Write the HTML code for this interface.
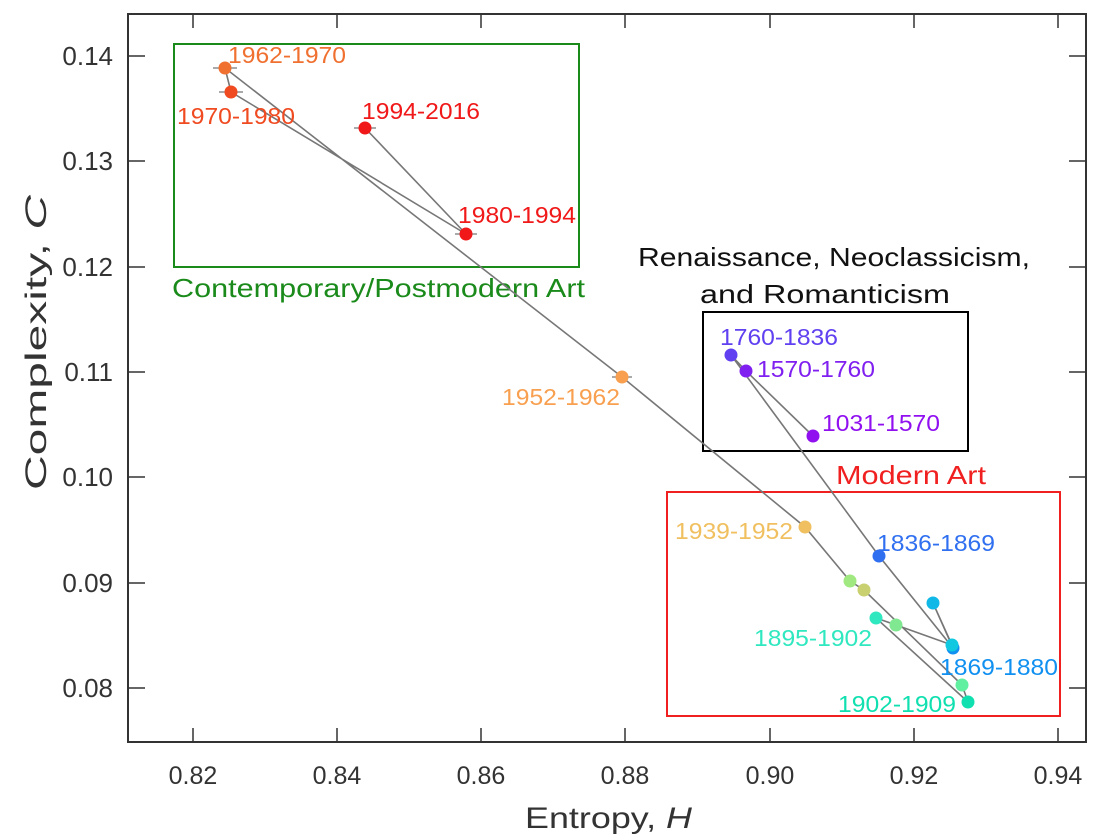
<!DOCTYPE html><html><head><style>body{margin:0;background:#fff}svg{display:block}text{font-family:"Liberation Sans",sans-serif}</style></head><body>
<svg width="1114" height="838" viewBox="0 0 1114 838">
<rect x="128" y="14" width="958" height="728" fill="none" stroke="#333" stroke-width="2"/>
<g stroke="#333" stroke-width="1.5">
<line x1="193" y1="742" x2="193" y2="728"/><line x1="337" y1="742" x2="337" y2="728"/><line x1="481" y1="742" x2="481" y2="728"/><line x1="625" y1="742" x2="625" y2="728"/><line x1="770" y1="742" x2="770" y2="728"/><line x1="914" y1="742" x2="914" y2="728"/><line x1="1058" y1="742" x2="1058" y2="728"/>
<line x1="193" y1="14" x2="193" y2="28"/><line x1="337" y1="14" x2="337" y2="28"/><line x1="481" y1="14" x2="481" y2="28"/><line x1="625" y1="14" x2="625" y2="28"/><line x1="770" y1="14" x2="770" y2="28"/><line x1="914" y1="14" x2="914" y2="28"/><line x1="1058" y1="14" x2="1058" y2="28"/>
<line x1="128" y1="56" x2="145" y2="56"/><line x1="128" y1="161" x2="145" y2="161"/><line x1="128" y1="267" x2="145" y2="267"/><line x1="128" y1="372" x2="145" y2="372"/><line x1="128" y1="477" x2="145" y2="477"/><line x1="128" y1="583" x2="145" y2="583"/><line x1="128" y1="688" x2="145" y2="688"/>
<line x1="1086" y1="56" x2="1069" y2="56"/><line x1="1086" y1="161" x2="1069" y2="161"/><line x1="1086" y1="267" x2="1069" y2="267"/><line x1="1086" y1="372" x2="1069" y2="372"/><line x1="1086" y1="477" x2="1069" y2="477"/><line x1="1086" y1="583" x2="1069" y2="583"/><line x1="1086" y1="688" x2="1069" y2="688"/>
</g>
<g font-size="25" fill="#333" text-anchor="middle">
<text x="193" y="784">0.82</text><text x="337" y="784">0.84</text><text x="481" y="784">0.86</text><text x="625" y="784">0.88</text><text x="770" y="784">0.90</text><text x="914" y="784">0.92</text><text x="1058" y="784">0.94</text>
</g>
<g font-size="26" fill="#333" text-anchor="end">
<text x="113" y="65">0.14</text><text x="113" y="170">0.13</text><text x="113" y="276">0.12</text><text x="113" y="381">0.11</text><text x="113" y="486">0.10</text><text x="113" y="592">0.09</text><text x="113" y="697">0.08</text>
</g>
<text x="525" y="828" font-size="30" fill="#333" textLength="167" lengthAdjust="spacingAndGlyphs">Entropy, <tspan font-style="italic">H</tspan></text>
<text transform="translate(46,490) rotate(-90)" font-size="30" fill="#333" textLength="295" lengthAdjust="spacingAndGlyphs">Complexity, <tspan font-style="italic">C</tspan></text>
<rect x="174" y="44" width="405" height="223" fill="none" stroke="#1a8a1a" stroke-width="2"/>
<text x="172" y="297" font-size="26" fill="#1a8a1a" textLength="413" lengthAdjust="spacingAndGlyphs">Contemporary/Postmodern Art</text>
<rect x="703" y="312" width="265" height="139" fill="none" stroke="#000" stroke-width="2"/>
<text x="638" y="266" font-size="26" fill="#111" textLength="392" lengthAdjust="spacingAndGlyphs">Renaissance, Neoclassicism,</text>
<text x="700" y="303" font-size="26" fill="#111" textLength="250" lengthAdjust="spacingAndGlyphs">and Romanticism</text>
<rect x="667" y="492" width="393" height="224" fill="none" stroke="#f02020" stroke-width="2"/>
<text x="836" y="484" font-size="26" fill="#f02020" textLength="150" lengthAdjust="spacingAndGlyphs">Modern Art</text>
<polyline fill="none" stroke="#777" stroke-width="1.6" points="813,436 746,371 731,355 879,556 953,648 933,603 952,645 896,625 876,618 968,702 962,685 864,590 850,581 805,527 622,377 225,68 231,92 466,234 365,128"/>
<g stroke="#777" stroke-width="1.2">
<line x1="213" y1="68" x2="237" y2="68"/><line x1="219" y1="92" x2="243" y2="92"/><line x1="354" y1="128" x2="376" y2="128"/><line x1="455" y1="234" x2="477" y2="234"/><line x1="612" y1="377" x2="632" y2="377"/>
</g>
<circle cx="813" cy="436" r="6.5" fill="#9010f0"/><circle cx="746" cy="371" r="6.5" fill="#8020f0"/><circle cx="731" cy="355" r="6.5" fill="#6040f0"/>
<circle cx="879" cy="556" r="6.5" fill="#3070f0"/><circle cx="933" cy="603" r="6.5" fill="#10b8e8"/><circle cx="953" cy="648" r="6.5" fill="#1090f0"/><circle cx="952" cy="645" r="6.5" fill="#10c8e0"/>
<circle cx="896" cy="625" r="6.5" fill="#80e890"/><circle cx="876" cy="618" r="6.5" fill="#30e8c0"/><circle cx="962" cy="685" r="6.5" fill="#60f0a0"/><circle cx="968" cy="702" r="6.5" fill="#10e0b0"/>
<circle cx="864" cy="590" r="6.5" fill="#c8d070"/><circle cx="850" cy="581" r="6.5" fill="#a0e880"/><circle cx="805" cy="527" r="6.5" fill="#f0c060"/>
<circle cx="622" cy="377" r="6.5" fill="#f8a050"/><circle cx="225" cy="68" r="6.5" fill="#f07030"/><circle cx="231" cy="92" r="6.5" fill="#f04a20"/><circle cx="365" cy="128" r="6.5" fill="#f01818"/><circle cx="466" cy="234" r="6.5" fill="#f01818"/>
<g font-size="23">
<text x="228" y="63" fill="#f07030" textLength="118" lengthAdjust="spacingAndGlyphs">1962-1970</text>
<text x="177" y="124" fill="#f04a20" textLength="118" lengthAdjust="spacingAndGlyphs">1970-1980</text>
<text x="362" y="119" fill="#f01818" textLength="118" lengthAdjust="spacingAndGlyphs">1994-2016</text>
<text x="458" y="223" fill="#f01818" textLength="118" lengthAdjust="spacingAndGlyphs">1980-1994</text>
<text x="502" y="405" fill="#f8a050" textLength="118" lengthAdjust="spacingAndGlyphs">1952-1962</text>
<text x="720" y="345" fill="#6040f0" textLength="118" lengthAdjust="spacingAndGlyphs">1760-1836</text>
<text x="757" y="377" fill="#8020f0" textLength="118" lengthAdjust="spacingAndGlyphs">1570-1760</text>
<text x="822" y="431" fill="#9010f0" textLength="118" lengthAdjust="spacingAndGlyphs">1031-1570</text>
<text x="675" y="539" fill="#f0c060" textLength="118" lengthAdjust="spacingAndGlyphs">1939-1952</text>
<text x="877" y="551" fill="#3070f0" textLength="118" lengthAdjust="spacingAndGlyphs">1836-1869</text>
<text x="754" y="646" fill="#30e8c0" textLength="118" lengthAdjust="spacingAndGlyphs">1895-1902</text>
<text x="940" y="675" fill="#1090f0" textLength="118" lengthAdjust="spacingAndGlyphs">1869-1880</text>
<text x="838" y="712" fill="#10e0b0" textLength="118" lengthAdjust="spacingAndGlyphs">1902-1909</text>
</g>
</svg></body></html>
